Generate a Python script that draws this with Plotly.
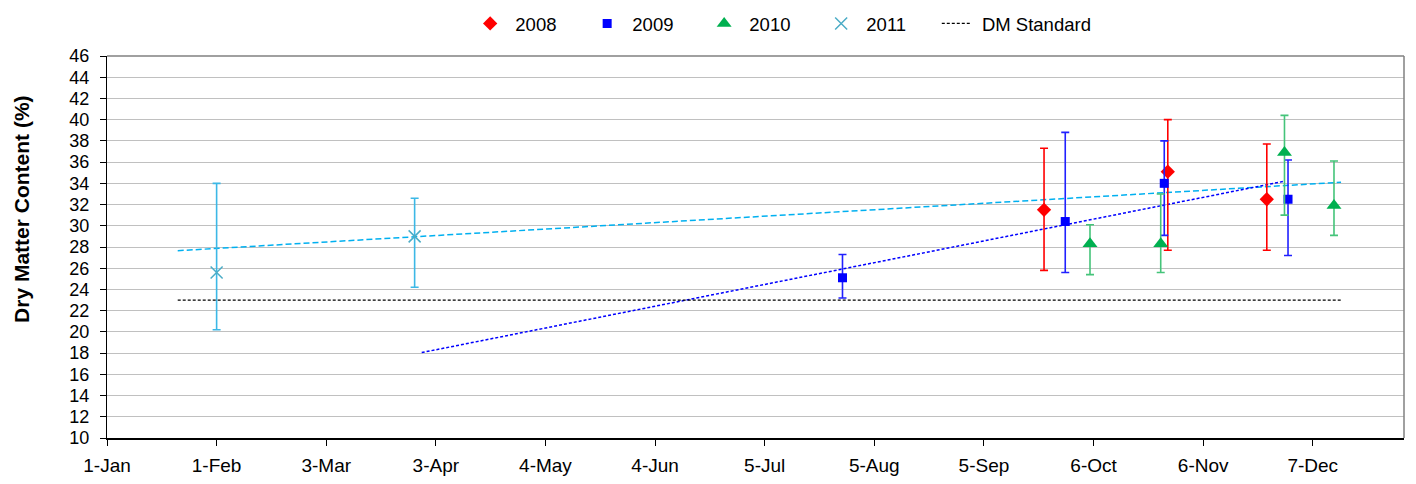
import plotly.graph_objects as go

# ---------------- data (x = day of year, leap year; 0 = 1-Jan) ----------------
tick_days = [0, 31, 62, 93, 124, 155, 186, 217, 248, 279, 310, 341]
tick_labels = ["1-Jan", "1-Feb", "3-Mar", "3-Apr", "4-May", "4-Jun",
               "5-Jul", "5-Aug", "5-Sep", "6-Oct", "6-Nov", "7-Dec"]

days_2008 = [265, 300, 328]
dm_2008 = [31.5, 35.1, 32.5]
hi_2008 = [37.3, 40.0, 37.7]
lo_2008 = [25.8, 27.7, 27.7]

days_2009 = [208, 271, 299, 334]
dm_2009 = [25.1, 30.4, 34.0, 32.5]
hi_2009 = [27.3, 38.8, 38.0, 36.2]
lo_2009 = [23.2, 25.6, 29.1, 27.2]

days_2010 = [278, 298, 333, 347]
dm_2010 = [28.3, 28.3, 36.9, 31.9]
hi_2010 = [30.1, 33.0, 40.4, 36.1]
lo_2010 = [25.4, 25.6, 31.0, 29.1]

days_2011 = [31, 87]
dm_2011 = [25.6, 29.0]
hi_2011 = [34.0, 32.6]
lo_2011 = [20.2, 24.2]

trend_2009_days = [89, 333]
trend_2009_dm = [18.05, 34.2]
trend_2011_days = [20, 349]
trend_2011_dm = [27.65, 34.1]
dm_standard_days = [20, 349]
dm_standard = [23, 23]

y_title = "Dry Matter Content (%)"

FONT = "Liberation Sans, Arial, sans-serif"
NB = "\u00a0"

fig = go.Figure()

def err(vals, hi, lo):
    return ([h - v for h, v in zip(hi, vals)], [v - l for v, l in zip(vals, lo)])

# trend lines (behind)
fig.add_trace(go.Scatter(x=trend_2011_days, y=trend_2011_dm, mode="lines", showlegend=False,
                         line=dict(color="#00b0f0", width=1.5, dash="6px,3px"), hoverinfo="skip"))
fig.add_trace(go.Scatter(x=trend_2009_days, y=trend_2009_dm, mode="lines", showlegend=False,
                         line=dict(color="#0000ff", width=1.5, dash="3px,2px"), hoverinfo="skip"))

series = [
    ("2008", days_2008, dm_2008, hi_2008, lo_2008, "#ff0000", "#ff0000", "diamond", 11, None),
    ("2009", days_2009, dm_2009, hi_2009, lo_2009, "#0000ff", "#2020ff", "square", 9, None),
    ("2010", days_2010, dm_2010, hi_2010, lo_2010, "#00b050", "#45c47a", "triangle-up", 13, None),
    ("2011", days_2011, dm_2011, hi_2011, lo_2011, "#4bacc6", "#3cb8e6", "x-thin-open", 12, 1.5),
]
for name, xs, ys, hi, lo, mcol, ecol, sym, size, lw in series:
    plus, minus = err(ys, hi, lo)
    marker = dict(symbol=sym, size=size, color=mcol)
    if lw:
        marker["line"] = dict(color=mcol, width=lw)
    fig.add_trace(go.Scatter(
        x=xs, y=ys, mode="markers", name=NB + name + NB * 5, marker=marker,
        error_y=dict(type="data", symmetric=False, array=plus, arrayminus=minus,
                     color=ecol, thickness=1.6, width=4)))

fig.add_trace(go.Scatter(x=dm_standard_days, y=dm_standard, mode="lines", name=NB + "DM Standard",
                         line=dict(color="#000000", width=1.3, dash="3px,2px")))

fig.update_layout(
    width=1400, height=468,
    margin=dict(l=99, r=4, t=48, b=38, autoexpand=False),
    paper_bgcolor="white", plot_bgcolor="white",
    font=dict(family=FONT, size=18, color="black"),
    legend=dict(orientation="h", x=0.28, xanchor="left", y=1.084, yanchor="middle",
                font=dict(family=FONT, size=18.5), bgcolor="rgba(0,0,0,0)"),
    xaxis=dict(range=[0, 366.8], tickvals=tick_days, ticktext=tick_labels,
               showgrid=False, zeroline=False, showline=True, linecolor="black", linewidth=2,
               ticks="outside", ticklen=6, tickcolor="black", tickwidth=1,
               ticklabelstandoff=3,
               tickfont=dict(family=FONT, size=19)),
    yaxis=dict(range=[10, 46], tick0=10, dtick=2, showgrid=True, gridcolor="#c0c0c0", gridwidth=1.3,
               zeroline=False, showline=True, linecolor="black", linewidth=1.2,
               ticks="outside", ticklen=6, tickcolor="black", tickwidth=1,
               ticklabelstandoff=7,
               tickfont=dict(family=FONT, size=18)),
    annotations=[dict(text="<b>" + y_title + "</b>", xref="paper", yref="paper",
                      x=-0.0656, y=0.5995, xanchor="center", yanchor="middle",
                      textangle=-90, showarrow=False,
                      font=dict(family=FONT, size=21, color="black"))],
    shapes=[
        dict(type="line", xref="paper", yref="paper", x0=0, x1=1, y0=1, y1=1,
             line=dict(color="#808080", width=1.5)),
        dict(type="line", xref="paper", yref="paper", x0=1, x1=1, y0=0, y1=1,
             line=dict(color="#808080", width=1.5)),
    ],
)

fig.write_html("out.html")
